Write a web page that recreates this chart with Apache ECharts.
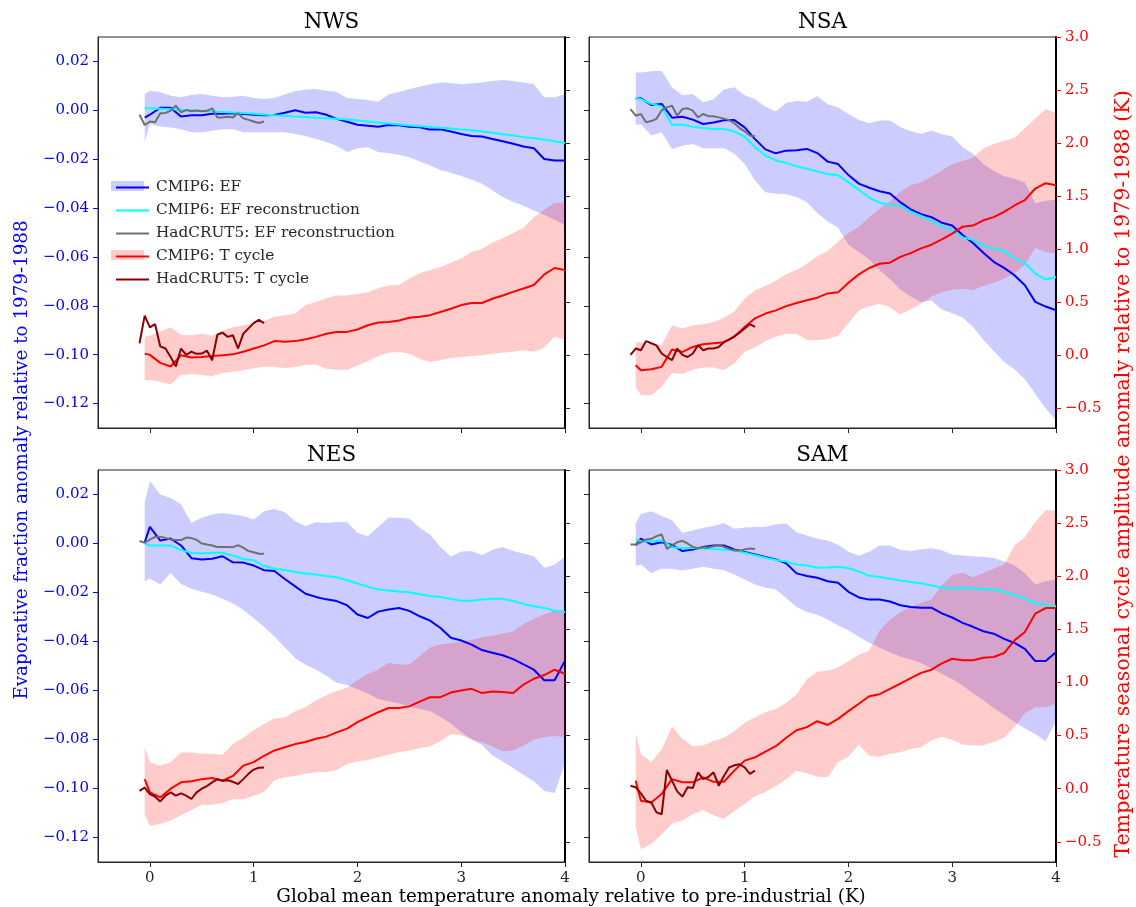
<!DOCTYPE html>
<html>
<head>
<meta charset="utf-8">
<script src="https://cdn.jsdelivr.net/npm/echarts@6/dist/echarts.min.js"></script>
<style>
  body { margin: 0; background: #fff; }
  #chart { width: 1136px; height: 907px; }
</style>
</head>
<body>
<div id="chart"></div>
<script>
  // x grids: CMIP6 ensemble curves and the HadCRUT5 segment
  var xCM = [-0.05, 0, 0.1, 0.2, 0.3, 0.4, 0.5, 0.6, 0.7, 0.8, 0.9, 1.0, 1.1, 1.2, 1.3, 1.4, 1.5, 1.6, 1.7, 1.8,
    1.9, 2.0, 2.1, 2.2, 2.3, 2.4, 2.5, 2.6, 2.7, 2.8, 2.9, 3.0, 3.1, 3.2, 3.3, 3.4, 3.5, 3.6, 3.7, 3.8, 3.9, 4.0];
  var xHad = [-0.1, -0.05, 0, 0.05, 0.1, 0.15, 0.2, 0.25, 0.3, 0.35, 0.4, 0.45, 0.5, 0.55, 0.6, 0.65, 0.7, 0.75,
    0.8, 0.85, 0.9, 0.95, 1.0, 1.05, 1.1];

  var xTicks = [0, 1, 2, 3, 4];
  var efTicks = [-0.12, -0.1, -0.08, -0.06, -0.04, -0.02, 0, 0.02];
  var tTicks = [-0.5, 0, 0.5, 1, 1.5, 2, 2.5, 3];

  var titles = ['NWS', 'NSA', 'NES', 'SAM'];
  var legendNames = ['CMIP6: EF', 'CMIP6: EF reconstruction', 'HadCRUT5: EF reconstruction', 'CMIP6: T cycle', 'HadCRUT5: T cycle'];

  // ---- NWS ----
  var nwsEF = [-0.003, -0.0018, 0.001, 0.001, -0.0025, -0.002, -0.002, -0.0014, -0.0014, -0.0012, -0.0015, -0.0018, -0.002, -0.0019, -0.001, 0.0, -0.001, -0.0008, -0.0018, -0.0035,
    -0.0047, -0.0059, -0.0063, -0.0067, -0.006, -0.0061, -0.0067, -0.0069, -0.0079, -0.0078, -0.0087, -0.0097, -0.0105, -0.0107, -0.0117, -0.0127, -0.0137, -0.0148, -0.0155, -0.0199, -0.0205, -0.0205];
  var nwsEFhi = [0.0067, 0.008, 0.0075, 0.006, 0.0053, 0.0063, 0.0067, 0.006, 0.0053, 0.0055, 0.006, 0.005, 0.0046, 0.005, 0.0065, 0.0078, 0.0085, 0.0087, 0.008, 0.0075,
    0.005, 0.0046, 0.0042, 0.0035, 0.0065, 0.0075, 0.0087, 0.0097, 0.0107, 0.0114, 0.0112, 0.0107, 0.011, 0.0114, 0.012, 0.0124, 0.012, 0.0114, 0.0107, 0.0053, 0.0053, 0.0067];
  var nwsEFlo = [-0.013, -0.0056, -0.0066, -0.007, -0.0078, -0.009, -0.009, -0.0084, -0.0077, -0.0077, -0.009, -0.009, -0.009, -0.009, -0.009, -0.0097, -0.0105, -0.0117, -0.013, -0.0145,
    -0.0171, -0.0155, -0.0151, -0.0171, -0.0176, -0.0182, -0.0192, -0.0209, -0.0226, -0.0244, -0.0255, -0.0269, -0.0283, -0.03, -0.0327, -0.0355, -0.0375, -0.0391, -0.041, -0.0428, -0.0448, -0.047];
  var nwsRec = [0.0008, 0.0008, 0.0006, 0.0004, 0.0002, 0.0, -0.0003, -0.0005, -0.0007, -0.0009, -0.0011, -0.0014, -0.0017, -0.002, -0.0022, -0.0025, -0.0027, -0.003, -0.0032, -0.0035,
    -0.0038, -0.0042, -0.0046, -0.005, -0.0054, -0.0058, -0.0062, -0.0065, -0.0068, -0.0071, -0.0074, -0.0078, -0.0082, -0.0087, -0.0092, -0.0098, -0.0103, -0.0109, -0.0114, -0.012, -0.0127, -0.0134];
  var nwsT = [0.01, 0.0, -0.075, -0.11, -0.003, -0.025, -0.02, -0.01, -0.003, 0.005, 0.03, 0.06, 0.09, 0.13, 0.125, 0.13, 0.148, 0.17, 0.2, 0.215,
    0.217, 0.24, 0.28, 0.305, 0.31, 0.325, 0.35, 0.36, 0.375, 0.405, 0.435, 0.47, 0.49, 0.49, 0.53, 0.56, 0.595, 0.626, 0.66, 0.76, 0.82, 0.8];
  var nwsThi = [0.17, 0.18, 0.22, 0.26, 0.19, 0.185, 0.2, 0.18, 0.23, 0.26, 0.28, 0.3, 0.32, 0.36, 0.375, 0.39, 0.47, 0.5, 0.535, 0.56,
    0.56, 0.575, 0.59, 0.63, 0.655, 0.66, 0.72, 0.77, 0.8, 0.83, 0.87, 0.91, 0.97, 1.0, 1.06, 1.1, 1.15, 1.2, 1.3, 1.37, 1.43, 1.44];
  var nwsTlo = [-0.24, -0.24, -0.25, -0.28, -0.19, -0.18, -0.19, -0.2, -0.17, -0.16, -0.145, -0.125, -0.113, -0.113, -0.125, -0.113, -0.095, -0.09, -0.13, -0.14,
    -0.14, -0.1, -0.06, -0.01, 0.02, 0.028, 0.01, -0.04, -0.066, -0.05, -0.03, -0.02, -0.01, -0.003, 0.01, 0.02, 0.03, 0.044, 0.03, 0.07, 0.17, 0.14];
  var nwsHadRec = [-0.0018, -0.006, -0.0046, -0.0049, -0.0012, -0.0011, -0.0001, 0.0019, -0.0008, 0.0001, -0.0004, -0.0001, -0.0004, -0.0002, 0.0008, -0.0029, -0.0029, -0.0026, -0.0029, -0.0012, -0.0033, -0.0039, -0.0046, -0.0052, -0.0046];
  var nwsHadT = [0.11, 0.37, 0.26, 0.29, 0.08, 0.06, -0.02, -0.11, 0.06, 0.0, 0.03, 0.01, 0.013, 0.04, -0.05, 0.19, 0.21, 0.17, 0.185, 0.06, 0.2, 0.25, 0.3, 0.33, 0.3];

  // ---- NSA ----
  var nsaEF = [0.0046, 0.0049, 0.0022, 0.0026, -0.003, -0.0026, -0.0038, -0.0056, -0.005, -0.0041, -0.004, -0.007, -0.0118, -0.016, -0.0176, -0.0165, -0.0163, -0.0158, -0.0175, -0.021,
    -0.022, -0.0265, -0.03, -0.0317, -0.0331, -0.034, -0.0376, -0.0405, -0.0425, -0.0437, -0.046, -0.0471, -0.051, -0.0543, -0.0583, -0.062, -0.0645, -0.0675, -0.0716, -0.0784, -0.0803, -0.0818];
  var nsaEFhi = [0.0155, 0.0155, 0.016, 0.0162, 0.0094, 0.0062, 0.0067, 0.0033, 0.0045, 0.0085, 0.0094, 0.0062, 0.0045, 0.0015, -0.0005, 0.003, 0.0038, 0.0035, 0.0058, 0.0025,
    0.0012, -0.0015, -0.004, -0.0053, -0.0042, -0.0042, -0.0069, -0.0085, -0.0097, -0.0083, -0.0098, -0.0107, -0.015, -0.0178, -0.022, -0.0248, -0.027, -0.028, -0.0294, -0.038, -0.037, -0.0366];
  var nsaEFlo = [-0.0059, -0.0057, -0.0103, -0.009, -0.0158, -0.0145, -0.0138, -0.0155, -0.0155, -0.0155, -0.0178, -0.0219, -0.0287, -0.0335, -0.0341, -0.0343, -0.0355, -0.0376, -0.042, -0.0455,
    -0.048, -0.055, -0.058, -0.061, -0.0654, -0.069, -0.0733, -0.0762, -0.0784, -0.0778, -0.0815, -0.083, -0.0848, -0.0886, -0.094, -0.0985, -0.103, -0.106, -0.11, -0.116, -0.122, -0.1267];
  var nsaRec = [0.0046, 0.0046, 0.0027, 0.0016, -0.006, -0.0058, -0.0067, -0.0072, -0.0076, -0.0076, -0.0087, -0.0108, -0.0151, -0.0185, -0.0205, -0.0215, -0.0229, -0.0239, -0.025, -0.0262,
    -0.0265, -0.0294, -0.0325, -0.0357, -0.0378, -0.0385, -0.039, -0.0416, -0.0432, -0.0452, -0.0475, -0.0491, -0.052, -0.053, -0.0555, -0.0565, -0.0575, -0.0605, -0.0625, -0.0668, -0.0692, -0.0682];
  var nsaT = [-0.097, -0.145, -0.135, -0.113, 0.05, 0.028, 0.075, 0.1, 0.11, 0.12, 0.17, 0.264, 0.345, 0.39, 0.42, 0.46, 0.49, 0.515, 0.54, 0.58,
    0.59, 0.68, 0.76, 0.82, 0.86, 0.87, 0.925, 0.96, 1.005, 1.04, 1.09, 1.145, 1.21, 1.22, 1.27, 1.3, 1.35, 1.41, 1.46, 1.57, 1.62, 1.6];
  var nsaThi = [0.12, 0.12, 0.1, 0.09, 0.28, 0.25, 0.28, 0.29, 0.31, 0.35, 0.41, 0.53, 0.61, 0.65, 0.7, 0.76, 0.8, 0.86, 0.93, 0.98,
    1.07, 1.15, 1.21, 1.3, 1.38, 1.45, 1.54, 1.6, 1.63, 1.68, 1.74, 1.8, 1.83, 1.86, 1.95, 1.99, 2.02, 2.05, 2.14, 2.23, 2.32, 2.28];
  var nsaTlo = [-0.3, -0.38, -0.38, -0.3, -0.17, -0.18, -0.14, -0.12, -0.12, -0.145, -0.08, 0.03, 0.07, 0.13, 0.17, 0.2, 0.2, 0.14, 0.138, 0.15,
    0.18, 0.3, 0.42, 0.46, 0.48, 0.45, 0.38, 0.43, 0.48, 0.55, 0.59, 0.615, 0.625, 0.61, 0.65, 0.68, 0.72, 0.77, 0.85, 1.01, 0.97, 0.956];
  var nsaHadRec = [0.0005, -0.0022, -0.0015, -0.0049, -0.0044, -0.0035, 0.0, 0.0012, 0.0019, -0.0022, 0.0005, 0.0008, -0.0001, -0.0029, -0.0015, -0.0024, -0.0024, -0.0029, -0.0034, -0.004, -0.0053, -0.0072, -0.0086, -0.0103, -0.0106];
  var nsaHadT = [0.0, 0.06, 0.044, 0.13, 0.11, 0.09, 0.013, -0.02, -0.05, 0.06, 0.0, -0.02, 0.013, 0.09, 0.044, 0.06, 0.06, 0.075, 0.12, 0.145, 0.175, 0.21, 0.25, 0.29, 0.264];

  // ---- NES ----
  var nesEF = [0.0005, 0.0068, 0.0012, 0.002, -0.0008, -0.006, -0.0065, -0.0062, -0.0052, -0.0077, -0.0078, -0.009, -0.0109, -0.0112, -0.0145, -0.0175, -0.0205, -0.0218, -0.0228, -0.0235,
    -0.0252, -0.029, -0.0304, -0.0278, -0.0269, -0.0263, -0.0275, -0.0297, -0.0315, -0.0345, -0.0385, -0.0396, -0.0413, -0.0435, -0.0446, -0.0456, -0.0472, -0.0493, -0.0515, -0.0558, -0.0558, -0.0478];
  var nesEFhi = [0.0166, 0.0255, 0.02, 0.0186, 0.016, 0.0084, 0.0105, 0.0118, 0.0125, 0.0118, 0.0112, 0.0098, 0.0132, 0.0141, 0.0128, 0.0091, 0.0071, 0.0087, 0.0084, 0.0088,
    0.0087, 0.0044, 0.003, 0.0068, 0.0105, 0.0105, 0.0102, 0.0064, 0.0037, -0.0014, -0.0054, -0.0033, -0.0031, -0.0048, -0.0026, -0.0014, -0.0031, -0.0041, -0.0052, -0.0099, -0.0086, -0.0054];
  var nesEFlo = [-0.0154, -0.0143, -0.0167, -0.012, -0.0165, -0.0185, -0.0197, -0.0208, -0.0225, -0.0245, -0.027, -0.0305, -0.034, -0.038, -0.0423, -0.0468, -0.0495, -0.0515, -0.054, -0.0568,
    -0.0578, -0.0595, -0.0612, -0.0635, -0.0645, -0.0652, -0.0666, -0.0676, -0.0684, -0.0708, -0.0735, -0.077, -0.08, -0.0822, -0.0865, -0.089, -0.0916, -0.0945, -0.097, -0.101, -0.1018, -0.0895];
  var nesRec = [0.0, -0.0008, -0.0008, -0.0008, -0.0027, -0.0038, -0.0041, -0.0038, -0.0038, -0.0049, -0.0063, -0.0068, -0.0092, -0.0102, -0.0108, -0.0116, -0.0122, -0.0127, -0.0133, -0.0138,
    -0.015, -0.0163, -0.0176, -0.0188, -0.0192, -0.0196, -0.0199, -0.0207, -0.0214, -0.0218, -0.0226, -0.0234, -0.0234, -0.0229, -0.0226, -0.0226, -0.0235, -0.0247, -0.0256, -0.0263, -0.0274, -0.028];
  var nesT = [0.09, -0.035, -0.082, 0.0, 0.06, 0.07, 0.09, 0.1, 0.075, 0.12, 0.217, 0.25, 0.31, 0.36, 0.39, 0.42, 0.44, 0.47, 0.49, 0.53,
    0.565, 0.626, 0.673, 0.72, 0.76, 0.76, 0.775, 0.82, 0.862, 0.862, 0.905, 0.925, 0.94, 0.9, 0.915, 0.91, 0.9, 0.98, 1.035, 1.07, 1.12, 1.082];
  var nesThi = [0.39, 0.25, 0.217, 0.25, 0.34, 0.34, 0.33, 0.33, 0.32, 0.42, 0.48, 0.55, 0.61, 0.66, 0.67, 0.73, 0.77, 0.83, 0.88, 0.92,
    0.95, 1.02, 1.08, 1.12, 1.185, 1.17, 1.17, 1.25, 1.33, 1.36, 1.37, 1.385, 1.4, 1.425, 1.44, 1.46, 1.48, 1.55, 1.6, 1.64, 1.68, 1.68];
  var nesTlo = [-0.24, -0.35, -0.333, -0.3, -0.25, -0.2, -0.15, -0.15, -0.135, -0.1, -0.1, -0.066, -0.03, 0.08, 0.107, 0.12, 0.14, 0.154, 0.154, 0.176,
    0.233, 0.255, 0.27, 0.295, 0.32, 0.343, 0.36, 0.38, 0.4, 0.446, 0.516, 0.5, 0.465, 0.437, 0.4, 0.35, 0.36, 0.406, 0.46, 0.484, 0.497, 0.485];
  var nesHadRec = [0.001, 0.0003, 0.0016, 0.0027, 0.0028, 0.0023, 0.0016, 0.0014, 0.0014, 0.0024, 0.0022, 0.0015, 0.0, -0.0004, -0.0008, -0.0014, -0.0014, -0.0014, -0.0015, -0.0007, -0.0017, -0.0031, -0.0036, -0.0042, -0.0042];
  var nesHadT = [-0.02, 0.01, -0.05, -0.075, -0.12, -0.066, -0.035, -0.066, -0.044, -0.066, -0.097, -0.035, 0.0, 0.025, 0.06, 0.09, 0.075, 0.08, 0.065, 0.044, 0.09, 0.14, 0.18, 0.197, 0.2];

  // ---- SAM ----
  var samEF = [-0.0008, 0.002, -0.0004, 0.0005, -0.0006, -0.0031, -0.0025, -0.0014, -0.0008, -0.0008, -0.0024, -0.0035, -0.0045, -0.0055, -0.0065, -0.0081, -0.0122, -0.0133, -0.014, -0.0154,
    -0.016, -0.0197, -0.022, -0.0229, -0.0229, -0.0237, -0.0252, -0.0259, -0.0262, -0.0262, -0.0285, -0.0302, -0.0324, -0.034, -0.0358, -0.0368, -0.0389, -0.0406, -0.043, -0.048, -0.048, -0.0444];
  var samEFhi = [0.0084, 0.012, 0.0132, 0.0112, 0.0095, 0.0044, 0.0053, 0.0064, 0.0071, 0.0084, 0.006, 0.0065, 0.0067, 0.0068, 0.0078, 0.0082, 0.0046, 0.0033, 0.0019, 0.0012,
    -0.0005, -0.0034, -0.005, -0.0034, -0.0008, -0.0008, -0.0025, -0.0031, -0.0023, -0.0019, -0.0028, -0.0046, -0.0049, -0.0052, -0.0054, -0.0059, -0.0072, -0.009, -0.012, -0.0167, -0.0154, -0.0147];
  var samEFlo = [-0.0093, -0.0086, -0.012, -0.0103, -0.0103, -0.011, -0.0103, -0.0095, -0.0103, -0.0109, -0.0127, -0.0147, -0.0167, -0.0181, -0.0188, -0.0222, -0.0259, -0.028, -0.0291, -0.031,
    -0.0335, -0.0354, -0.0382, -0.0404, -0.0426, -0.0445, -0.0461, -0.0473, -0.0488, -0.0511, -0.0532, -0.0553, -0.058, -0.0611, -0.064, -0.0671, -0.0699, -0.0729, -0.0755, -0.0778, -0.0807, -0.0725];
  var samRec = [0.0014, 0.001, 0.0008, 0.0013, -0.0015, -0.0018, -0.0018, -0.0021, -0.0022, -0.0024, -0.0028, -0.0038, -0.0048, -0.0058, -0.0067, -0.0073, -0.0086, -0.009, -0.0099, -0.0098,
    -0.0095, -0.0101, -0.0114, -0.0132, -0.0137, -0.0144, -0.0151, -0.0157, -0.0162, -0.0171, -0.018, -0.0184, -0.0181, -0.0184, -0.0186, -0.0188, -0.0197, -0.021, -0.0225, -0.0243, -0.025, -0.0256];
  var samT = [0.075, -0.113, -0.13, -0.05, 0.09, 0.06, 0.06, 0.107, 0.065, 0.065, 0.17, 0.264, 0.296, 0.35, 0.4, 0.48, 0.55, 0.58, 0.635, 0.6,
    0.657, 0.73, 0.8, 0.87, 0.89, 0.94, 0.99, 1.04, 1.09, 1.12, 1.18, 1.223, 1.21, 1.21, 1.233, 1.24, 1.277, 1.396, 1.475, 1.648, 1.7, 1.7];
  var samThi = [0.52, 0.327, 0.25, 0.37, 0.585, 0.47, 0.4, 0.41, 0.45, 0.48, 0.54, 0.62, 0.673, 0.72, 0.75, 0.81, 0.887, 1.03, 1.1, 1.11,
    1.14, 1.2, 1.26, 1.3, 1.49, 1.59, 1.66, 1.71, 1.75, 1.78, 1.915, 2.01, 2.035, 1.99, 2.03, 2.07, 2.11, 2.29, 2.37, 2.51, 2.62, 2.62];
  var samTlo = [-0.35, -0.57, -0.52, -0.43, -0.33, -0.3, -0.24, -0.2, -0.25, -0.286, -0.21, -0.145, -0.07, -0.03, 0.025, 0.09, 0.17, 0.145, 0.113, 0.107,
    0.25, 0.3, 0.415, 0.31, 0.3, 0.33, 0.343, 0.374, 0.39, 0.453, 0.49, 0.46, 0.415, 0.406, 0.41, 0.44, 0.48, 0.58, 0.71, 0.767, 0.767, 0.8];
  var samHadRec = [-0.0004, -0.0004, 0.0005, 0.0016, 0.0019, 0.003, 0.0037, -0.0022, -0.0008, 0.0005, 0.0011, 0.0, -0.0014, -0.0019, -0.0015, -0.0016, -0.0011, -0.0005, -0.0014, -0.0022, -0.0029, -0.0029, -0.0024, -0.002, -0.0022];
  var samHadT = [0.028, 0.013, -0.044, -0.113, -0.13, -0.223, -0.24, 0.176, 0.075, -0.025, -0.075, 0.013, 0.006, 0.154, 0.09, 0.11, 0.154, 0.028, 0.12, 0.2, 0.22, 0.23, 0.2, 0.14, 0.17];

  var FONT = 'DejaVu Serif';
  var panels = [
    { ef: nwsEF, efHi: nwsEFhi, efLo: nwsEFlo, rec: nwsRec, t: nwsT, tHi: nwsThi, tLo: nwsTlo, hadRec: nwsHadRec, hadT: nwsHadT },
    { ef: nsaEF, efHi: nsaEFhi, efLo: nsaEFlo, rec: nsaRec, t: nsaT, tHi: nsaThi, tLo: nsaTlo, hadRec: nsaHadRec, hadT: nsaHadT },
    { ef: nesEF, efHi: nesEFhi, efLo: nesEFlo, rec: nesRec, t: nesT, tHi: nesThi, tLo: nesTlo, hadRec: nesHadRec, hadT: nesHadT },
    { ef: samEF, efHi: samEFhi, efLo: samEFlo, rec: samRec, t: samT, tHi: samThi, tLo: samTlo, hadRec: samHadRec, hadT: samHadT }
  ];
  var grids = [
    { left: 98, top: 37, width: 467, height: 391 },
    { left: 589, top: 37, width: 467, height: 391 },
    { left: 98, top: 470, width: 467, height: 392 },
    { left: 589, top: 470, width: 467, height: 392 }
  ];

  function fmt(v, d) {
    var s = Math.abs(v).toFixed(d);
    return v < -1e-9 ? '\u2212' + s : s;
  }

  function pairs(xs, ys) {
    return xs.map(function (x, k) { return [x, ys[k]]; });
  }

  function line(name, xs, ys, xi, yi, color) {
    return {
      name: name, type: 'line', xAxisIndex: xi, yAxisIndex: yi,
      data: pairs(xs, ys), showSymbol: false, symbol: 'none', silent: true,
      color: color, itemStyle: { color: color },
      lineStyle: { color: color, width: 2 }, emphasis: { disabled: true },
      animation: false
    };
  }

  // shaded range drawn as one polygon through the axis scales
  function band(xs, lo, hi, xi, yi, fill) {
    var data = xs.map(function (x, k) { return [x, lo[k], hi[k]]; });
    return {
      type: 'custom', xAxisIndex: xi, yAxisIndex: yi, silent: true, animation: false,
      data: data, encode: { x: 0, y: [1, 2] }, clip: true,
      renderItem: function (params, api) {
        if (params.dataIndex !== 0) return null;
        var pts = [];
        for (var k = 0; k < data.length; k++) pts.push(api.coord([data[k][0], data[k][2]]));
        for (var k = data.length - 1; k >= 0; k--) pts.push(api.coord([data[k][0], data[k][1]]));
        return { type: 'polygon', shape: { points: pts }, style: { fill: fill, stroke: null } };
      }
    };
  }

  var xAxes = [], yAxes = [], series = [];
  panels.forEach(function (d, g) {
    var leftCol = (g % 2 === 0), bottomRow = (g >= 2);
    xAxes.push({
      type: 'value', gridIndex: g, min: -0.5, max: 4,
      axisLine: { show: true, onZero: false, lineStyle: { color: '#262626', width: 1 } },
      axisTick: { show: true, length: 5, customValues: xTicks, lineStyle: { color: '#262626' } },
      axisLabel: { show: bottomRow, customValues: xTicks, margin: 9, color: '#262626', fontFamily: FONT, fontSize: 15 },
      splitLine: { show: false }
    });
    yAxes.push({
      type: 'value', gridIndex: g, position: 'left', min: -0.13, max: 0.03,
      axisLine: { show: true, onZero: false, lineStyle: { color: '#262626', width: 1 } },
      axisTick: { show: true, length: 5, customValues: efTicks, lineStyle: { color: leftCol ? '#0000ff' : '#262626' } },
      axisLabel: { show: leftCol, customValues: efTicks, margin: 9, color: '#0000ff', fontFamily: FONT, fontSize: 15,
        formatter: function (v) { return fmt(v, 2); } },
      splitLine: { show: false }
    });
    yAxes.push({
      type: 'value', gridIndex: g, position: 'right', min: -0.69, max: 3.0,
      axisLine: { show: true, onZero: false, lineStyle: { color: '#000', width: 2 } },
      axisTick: { show: true, length: 5, customValues: tTicks, lineStyle: { color: leftCol ? '#262626' : '#ff0000' } },
      axisLabel: { show: !leftCol, customValues: tTicks, margin: 9, color: '#ff0000', fontFamily: FONT, fontSize: 15,
        formatter: function (v) { return fmt(v, 1); } },
      splitLine: { show: false }
    });
    var ye = 2 * g, yt = 2 * g + 1;
    series.push(band(xCM, d.efLo, d.efHi, g, ye, 'rgba(0,0,255,0.2)'));
    series.push(line(legendNames[0], xCM, d.ef, g, ye, '#0000ff'));
    series.push(line(legendNames[1], xCM, d.rec, g, ye, '#00ffff'));
    series.push(line(legendNames[2], xHad, d.hadRec, g, ye, '#707070'));
    series.push(band(xCM, d.tLo, d.tHi, g, yt, 'rgba(255,0,0,0.2)'));
    series.push(line(legendNames[3], xCM, d.t, g, yt, '#ff0000'));
    series.push(line(legendNames[4], xHad, d.hadT, g, yt, '#8b0000'));
  });

  var textEls = [];
  var titlePos = [[331.5, 22], [822.5, 22], [331.5, 455], [822.5, 455]];
  titles.forEach(function (t, i) {
    textEls.push({ type: 'text', x: titlePos[i][0], y: titlePos[i][1], z: 10,
      style: { text: t, fill: '#000', fontFamily: FONT, fontSize: 21.5, textAlign: 'center', textVerticalAlign: 'middle', align: 'center', verticalAlign: 'middle' } });
  });
  textEls.push({ type: 'text', x: 571, y: 897, z: 10,
    style: { text: 'Global mean temperature anomaly relative to pre-industrial (K)', fill: '#000', fontFamily: FONT, fontSize: 18.3,
      textAlign: 'center', textVerticalAlign: 'middle', align: 'center', verticalAlign: 'middle' } });
  textEls.push({ type: 'text', x: 22, y: 460, rotation: Math.PI / 2, z: 10,
    style: { text: 'Evaporative fraction anomaly relative to 1979-1988', fill: '#0000ff', fontFamily: FONT, fontSize: 18.3,
      textAlign: 'center', textVerticalAlign: 'middle', align: 'center', verticalAlign: 'middle' } });
  textEls.push({ type: 'text', x: 1124, y: 474, rotation: Math.PI / 2, z: 10,
    style: { text: 'Temperature seasonal cycle amplitude anomaly relative to 1979-1988 (K)', fill: '#ff0000', fontFamily: FONT, fontSize: 20.6,
      textAlign: 'center', textVerticalAlign: 'middle', align: 'center', verticalAlign: 'middle' } });
  // shaded patches behind the band entries of the legend
  textEls.push({ type: 'rect', shape: { x: 111, y: 181, width: 33, height: 10 }, z: 3, style: { fill: 'rgba(0,0,255,0.2)' } });
  textEls.push({ type: 'rect', shape: { x: 111, y: 250, width: 33, height: 10 }, z: 3, style: { fill: 'rgba(255,0,0,0.2)' } });

  var chart = echarts.init(document.getElementById('chart'), null, { renderer: 'canvas' });
  chart.setOption({
    backgroundColor: '#fff',
    animation: false,
    grid: grids.map(function (g) {
      return { left: g.left, top: g.top, width: g.width, height: g.height, show: true, borderColor: '#262626', borderWidth: 1, backgroundColor: 'transparent', containLabel: false };
    }),
    xAxis: xAxes,
    yAxis: yAxes,
    legend: {
      data: legendNames, left: 111, top: 175, orient: 'vertical', icon: 'rect',
      itemWidth: 33, itemHeight: 2, itemGap: 8, selectedMode: false, z: 5,
      textStyle: { fontFamily: FONT, fontSize: 15.3, color: '#262626', lineHeight: 15, padding: [0, 0, 0, 2] }
    },
    graphic: { elements: textEls },
    series: series
  });
</script>
</body>
</html>
